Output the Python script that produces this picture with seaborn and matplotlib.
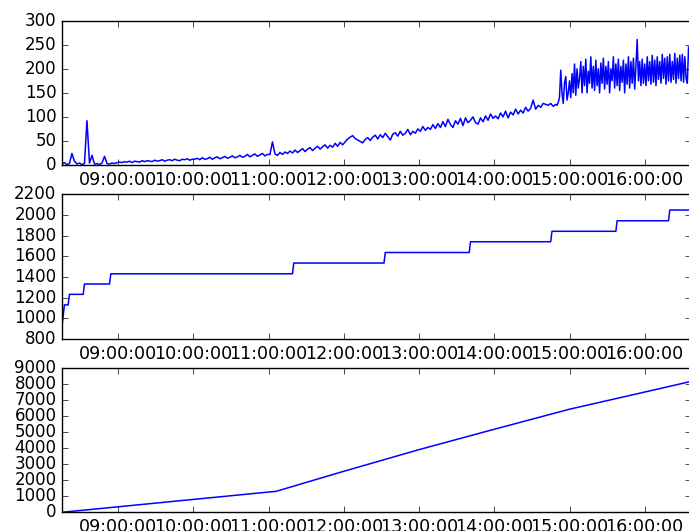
import matplotlib
matplotlib.use("Agg")
import matplotlib.pyplot as plt
import matplotlib.dates as mdates
import numpy as np
import pandas as pd
import seaborn as sns

# ---------------- data ----------------
# top panel, part 1: sampled every 2 minutes from 08:15 to 14:49
rate_early_start = "2020-01-01 08:15"
rate_early = [
    # 08:15 - 08:59
    2, 5, 1, 3, 24, 8, 2, 4, 1, 3, 92, 4, 20, 2, 3, 1, 4, 18, 3, 2, 4, 3, 5,
    # 09:01 - 09:59
    6, 5, 7, 6, 8, 5, 8, 7, 6, 9, 7, 9, 8, 7, 10, 8, 9, 11, 8, 10, 11, 9, 12, 10, 9, 12, 11, 13, 10, 12,
    # 10:01 - 10:59
    12, 14, 11, 15, 12, 13, 16, 12, 15, 17, 13, 15, 18, 14, 16, 19, 15, 17, 20, 16, 18, 22, 17, 20, 23, 18, 21, 24, 19, 22,
    # 11:01 - 11:59
    22, 48, 23, 20, 26, 22, 27, 24, 29, 25, 31, 26, 30, 34, 28, 33, 36, 30, 35, 39, 33, 38, 42, 35, 41, 37, 45, 39, 47, 42,
    # 12:01 - 12:59
    48, 54, 58, 61, 55, 52, 49, 46, 53, 57, 51, 58, 62, 54, 63, 57, 66, 59, 52, 64, 67, 60, 70, 62, 66, 74, 63, 70, 66, 75,
    # 13:01 - 13:59
    70, 80, 72, 78, 74, 84, 76, 86, 78, 90, 80, 95, 84, 78, 92, 85, 97, 82, 98, 88, 93, 100, 88, 85, 98, 90, 102, 93, 106, 97,
    # 14:01 - 14:49
    102, 96, 108, 100, 112, 98, 110, 104, 116, 106, 114, 108, 120, 112, 118, 135, 116, 124, 120, 128, 126, 124, 128, 122, 126,
]
# top panel, part 2: sampled every minute from 14:50 to 16:35
rate_late_start = "2020-01-01 14:50"
rate_late = [
    124, 130, 140, 197, 150, 128, 170, 184, 135, 150,
    175, 140, 190, 150, 210, 145, 200, 160, 180, 215,
    150, 205, 165, 220, 150, 195, 170, 225, 160, 205,
    155, 218, 165, 200, 150, 212, 170, 222, 158, 205,
    168, 215, 150, 200, 175, 225, 160, 210, 165, 220,
    155, 205, 172, 218, 150, 210, 168, 225, 160, 215,
    170, 222, 158, 205, 261, 175, 215, 165, 220, 170,
    210, 165, 225, 175, 215, 168, 228, 172, 218, 165,
    225, 178, 215, 170, 230, 180, 222, 168, 225, 175,
    230, 172, 215, 178, 232, 170, 222, 180, 228, 175,
    230, 172, 225, 180, 170, 245,
]

# middle panel: step series
level_times = ["08:15", "08:17", "08:20", "08:21", "08:32", "08:33", "08:53", "08:54",
               "11:19", "11:20", "12:32", "12:33", "13:40", "13:41", "14:45", "14:46",
               "15:37", "15:38", "16:19", "16:20", "16:35"]
level_values = [915, 1130, 1130, 1232, 1232, 1332, 1332, 1431,
                1431, 1535, 1535, 1637, 1637, 1741, 1741, 1842,
                1842, 1944, 1944, 2048, 2048]

# bottom panel: cumulative series
cum_times = ["08:15", "11:06", "12:00", "13:00", "14:00", "15:00", "16:00", "16:36"]
cum_values = [0, 1310, 2560, 3910, 5180, 6430, 7500, 8146]

tick_fmt = "%H:%M:%S"

# ---------------- build frames ----------------
day = "2020-01-01 "
t_early = pd.date_range(rate_early_start, periods=len(rate_early), freq="2min")
t_late = pd.date_range(rate_late_start, periods=len(rate_late), freq="1min")
df_rate = pd.DataFrame({
    "time": t_early.append(t_late),
    "value": rate_early + rate_late,
})
df_level = pd.DataFrame({"time": pd.to_datetime([day + t for t in level_times]),
                         "value": level_values})
df_cum = pd.DataFrame({"time": pd.to_datetime([day + t for t in cum_times]),
                       "value": cum_values})

# ---------------- style ----------------
plt.style.use("classic")
plt.rcParams.update({
    "figure.facecolor": "white",
    "savefig.facecolor": "white",
    "font.family": ["DejaVu Sans"],
    "font.size": 12,
})

W, H = 689, 531
fig = plt.figure(figsize=(W / 100, H / 100), dpi=100)

left = 62 / W
right = 691 / W
width = right - left
boxes = [(20.7, 165.0), (194.3, 339.0), (368.0, 512.3)]
axes = []
for top_px, bot_px in boxes:
    ax = fig.add_axes([left, (H - bot_px) / H, width, (bot_px - top_px) / H])
    axes.append(ax)

xmin = pd.Timestamp(day + "08:15:05")
xmax = pd.Timestamp(day + "16:36:56")

frames = [df_rate, df_level, df_cum]
ylims = [(0, 300), (800, 2200), (0, 9000)]
ysteps = [50, 200, 1000]

for ax, df, (y0, y1), st in zip(axes, frames, ylims, ysteps):
    sns.lineplot(data=df, x="time", y="value", ax=ax, color="b",
                 linewidth=1.1, estimator=None, legend=False)
    ax.set_xlim(xmin, xmax)
    ax.set_ylim(y0, y1)
    ax.set_yticks(np.arange(y0, y1 + st / 2, st))
    ax.xaxis.set_major_locator(mdates.HourLocator())
    ax.xaxis.set_major_formatter(mdates.DateFormatter(tick_fmt))
    ax.set_xlabel("")
    ax.set_ylabel("")
    ax.tick_params(direction="in", top=True, right=True)
    ax.tick_params(axis="y", labelsize=12)
    ax.tick_params(axis="x", labelsize=12.6)
    for lab in ax.get_xticklabels():
        lab.set_rotation(0)

fig.savefig("out.png", dpi=100)
